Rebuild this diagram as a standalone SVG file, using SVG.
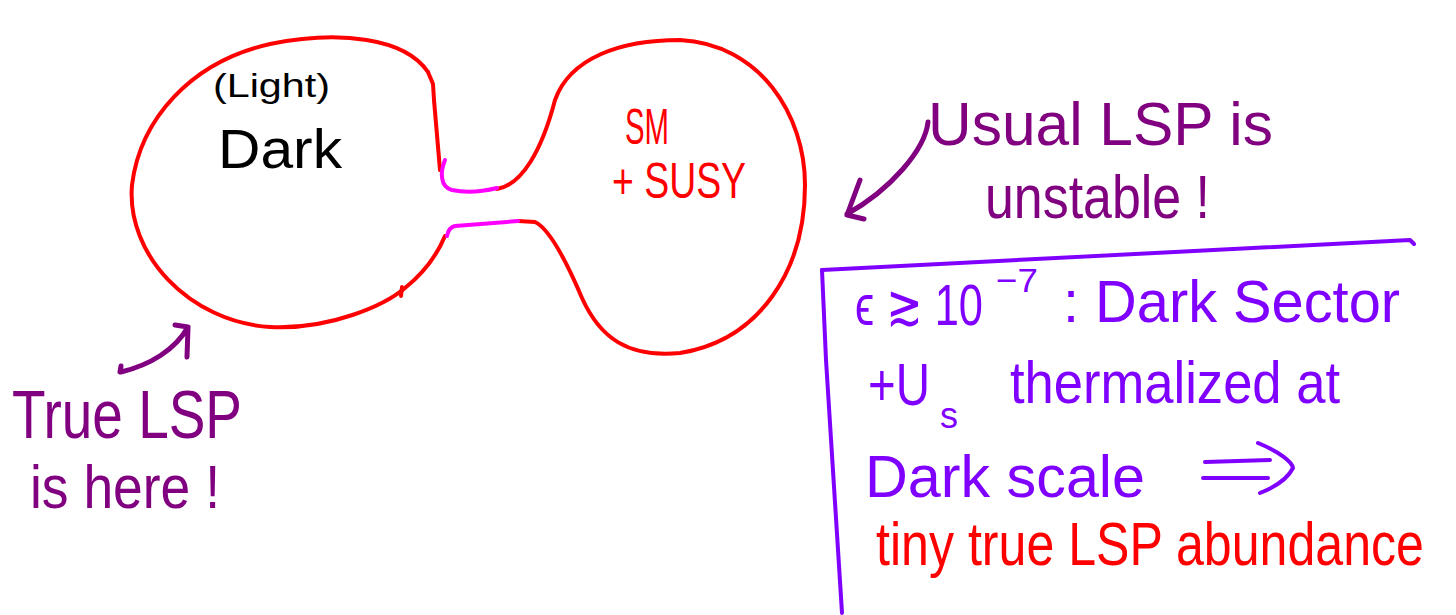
<svg xmlns="http://www.w3.org/2000/svg" width="1456" height="615" viewBox="0 0 1456 615">
<style>
.red{fill:none;stroke:#ff0000;stroke-width:4;stroke-linecap:round;stroke-linejoin:round}
.mag{fill:none;stroke:#ff00ff;stroke-width:4;stroke-linecap:round;stroke-linejoin:round}
.pur{fill:none;stroke:#800080;stroke-width:5;stroke-linecap:round;stroke-linejoin:round}
.vio{fill:none;stroke:#8000ff;stroke-width:4;stroke-linecap:round;stroke-linejoin:round}
text{font-family:"Liberation Sans","DejaVu Sans",sans-serif}
.tb{fill:#000000}
.tr{fill:#ff0000}
.tp{fill:#800080}
.tv{fill:#8000ff}
</style>
<rect width="1456" height="615" fill="#ffffff"/>
<g id="dark-sector">
<path class="red" d="M428 72 C405 38,340 30,270 44 C190 62,140 120,132 185 C126 255,190 322,270 327 C330 330,385 305,405 288 C425 272,437 255,445 236"/>
<path class="red" d="M428 72 L433 84 L434 100 L440 170"/>
<path class="red" d="M402 287 L401 296"/>
<text class="tb" x="213" y="97" font-size="34" textLength="117" lengthAdjust="spacingAndGlyphs">(Light)</text>
<text class="tb" x="218" y="168" font-size="56" textLength="124" lengthAdjust="spacingAndGlyphs">Dark</text>
</g>
<g id="sm-susy">
<path class="red" d="M497 189 C522 185,542 150,555 100 C570 58,620 40,680 40 C760 44,805 115,805 185 C805 270,760 340,680 353 C628 358,600 338,582 298 C565 258,548 228,535 222 L518 221"/>
<text class="tr" x="625" y="144" font-size="50" textLength="44" lengthAdjust="spacingAndGlyphs">SM</text>
<text class="tr" x="612" y="198" font-size="50" textLength="134" lengthAdjust="spacingAndGlyphs">+ SUSY</text>
</g>
<g id="portal">
<path class="mag" d="M445 160 C440 172,440 187,452 190 C470 194,485 191,497 188"/>
<path class="mag" d="M518 221 L455 226 C450 227,448 231,447 236"/>
</g>
<g id="true-lsp-note">
<text class="tp" x="12" y="438" font-size="68" textLength="230" lengthAdjust="spacingAndGlyphs">True LSP</text>
<text class="tp" x="30" y="508" font-size="62" textLength="190" lengthAdjust="spacingAndGlyphs">is here !</text>
</g>
<g id="usual-lsp-note">
<text class="tp" x="928" y="145" font-size="62" textLength="345" lengthAdjust="spacingAndGlyphs">Usual LSP is</text>
<text class="tp" x="985" y="218" font-size="62" textLength="225" lengthAdjust="spacingAndGlyphs">unstable !</text>
</g>
<g id="box-note">
<path class="vio" d="M822 270 C1000 262,1200 250,1410 240 L1414 244"/>
<path class="vio" d="M822 270 L826 360 L842 613"/>
<text class="tv" transform="translate(855,325) scale(1,1.25)" x="0" y="0" font-size="46" textLength="128" lengthAdjust="spacingAndGlyphs">ϵ ≳ 10</text>
<text class="tv" x="996" y="292" font-size="34" textLength="42" lengthAdjust="spacingAndGlyphs">−7</text>
<text class="tv" x="1063" y="322" font-size="60" textLength="337" lengthAdjust="spacingAndGlyphs">: Dark Sector</text>
<text class="tv" transform="translate(868,405) scale(1,1.25)" x="0" y="0" font-size="47" textLength="62" lengthAdjust="spacingAndGlyphs">+U</text>
<text class="tv" x="940" y="428" font-size="36">s</text>
<text class="tv" x="1010" y="403" font-size="60" textLength="330" lengthAdjust="spacingAndGlyphs">thermalized at</text>
<text class="tv" x="865" y="497" font-size="60" textLength="280" lengthAdjust="spacingAndGlyphs">Dark scale</text>
<path class="vio" d="M1205 462 L1270 460 M1203 478 L1268 478 M1258 443 C1280 452,1292 462,1293 468 C1288 478,1275 487,1260 493"/>
<text class="tr" transform="translate(876,565) scale(1,1.22)" x="0" y="0" font-size="50" textLength="548" lengthAdjust="spacingAndGlyphs">tiny true LSP abundance</text>
</g>
<g id="connectors">
<path class="pur" d="M120 372 L121 366 M121 372 C150 365,175 350,188 327 M175 325 L188 327 L187 357"/>
<path class="pur" d="M928 122 C925 150,890 190,847 214 M860 180 L847 215 L864 219"/>
</g>
</svg>
